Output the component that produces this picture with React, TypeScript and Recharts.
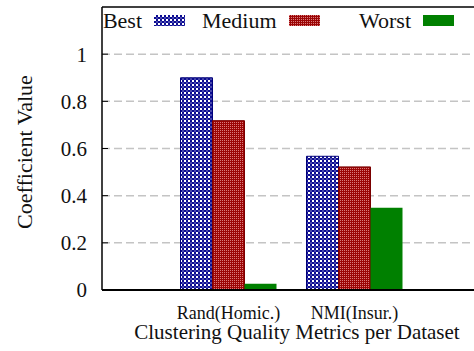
import React from "react";
import {
    BarChart,
    Bar,
    XAxis,
    YAxis,
    CartesianGrid,
    ReferenceLine,
} from "recharts";

// values
const CATEGORIES = ["Rand(Homic.)", "NMI(Insur.)"];
const BEST = [0.9, 0.567];
const MEDIUM = [0.718, 0.522];
const WORST = [0.026, 0.349];
const Y_TICKS = [0, 0.2, 0.4, 0.6, 0.8, 1];

const SERIES = [
    { key: "best", name: "Best", fill: "url(#checkBlue)", stroke: "#00007a", swatch: "url(#checkBlueL)" },
    { key: "medium", name: "Medium", fill: "url(#dotRed)", stroke: "#7a0000", swatch: "url(#dotRedL)" },
    { key: "worst", name: "Worst", fill: "#008000", stroke: "none", swatch: "#008000" },
];

const data = CATEGORIES.map((name, i) => ({
    name,
    best: BEST[i],
    medium: MEDIUM[i],
    worst: WORST[i],
}));

const FONT = "'Liberation Serif', 'Times New Roman', serif";

const Patterns = ({ suffix = "" }: { suffix?: string }) => (
    <>
        <pattern id={`checkBlue${suffix}`} width="4" height="4" patternUnits="userSpaceOnUse">
            <rect width="4" height="4" fill="#0c0c92" />
            <rect x="0" y="0" width="2" height="2" fill="#ffffff" />
            <rect x="2" y="2" width="2" height="2" fill="#ffffff" opacity={0.25} />
        </pattern>
        <pattern id={`dotRed${suffix}`} width="2" height="2" patternUnits="userSpaceOnUse">
            <rect width="2" height="2" fill="#9c0606" />
            <rect x="0" y="0" width="1" height="1" fill="#d97b7b" />
        </pattern>
    </>
);

const YTitle = () => (
    <text
        x={32}
        y={152}
        transform="rotate(-90, 32, 152)"
        textAnchor="middle"
        style={{ fontFamily: FONT, fontSize: 22 }}
        fill="#111"
    >
        Coefficient Value
    </text>
);

const XTitle = () => (
    <text x={297} y={339} textAnchor="middle" style={{ fontFamily: FONT, fontSize: 21 }} fill="#111">
        Clustering Quality Metrics per Dataset
    </text>
);

function KeyOverlay() {
    return (
        <div style={{ position: "absolute", left: 0, top: 0, pointerEvents: "none" }}>
            {SERIES.map((s, k) => (
                <div key={s.key}>
                    <div
                        style={{
                            position: "absolute",
                            left: 62 + k * 134.5,
                            top: 9.6,
                            width: 80,
                            textAlign: "right",
                            fontFamily: FONT,
                            fontSize: 22,
                            lineHeight: "22px",
                            color: "#111",
                            whiteSpace: "nowrap",
                        }}
                    >
                        {s.name}
                    </div>
                    <svg
                        width={31}
                        height={11}
                        style={{ position: "absolute", left: 154 + k * 134.5, top: 15 }}
                    >
                        <defs>
                            <Patterns suffix="L" />
                        </defs>
                        <rect width={31} height={11} fill={s.swatch} />
                    </svg>
                </div>
            ))}
        </div>
    );
}

export default function App() {
    return (
        <div style={{ position: "relative", width: 474, height: 351, fontFamily: FONT }}>
            <style>{"body{margin:0} .recharts-wrapper svg text{font-family:'Liberation Serif','Times New Roman',serif}"}</style>
            <BarChart
                width={474}
                height={351}
                data={data}
                margin={{ top: 7, right: 0, left: 0, bottom: 0 }}
                barGap={0}
                barSize={32}
                style={{ fontFamily: FONT }}
            >
                <defs>
                    <Patterns />
                </defs>
                <CartesianGrid
                    vertical={false}
                    horizontalValues={[0.2, 0.4, 0.6, 0.8, 1]}
                    stroke="#c4c4c4"
                    strokeDasharray="8 4"
                    strokeWidth={1.5}
                />
                <XAxis
                    dataKey="name"
                    height={61}
                    padding={{ left: 63.5, right: 56.5 }}
                    tickLine={false}
                    tickSize={0}
                    tickMargin={16}
                    axisLine={{ stroke: "#000", strokeWidth: 2 }}
                    tick={{ fill: "#111", fontSize: 18, style: { fontFamily: FONT } }}
                    label={<XTitle />}
                />
                <YAxis
                    width={102}
                    domain={[0, 1.2]}
                    ticks={Y_TICKS}
                    interval={0}
                    tickSize={-6}
                    tickMargin={21}
                    tickLine={{ stroke: "#000" }}
                    axisLine={{ stroke: "#000", strokeWidth: 1.5 }}
                    tick={{ fill: "#111", fontSize: 21, style: { fontFamily: FONT } }}
                    label={<YTitle />}
                />
                <ReferenceLine y={1.2} stroke="#000" strokeWidth={1.5} />
                {SERIES.map((s) => (
                    <Bar
                        key={s.key}
                        dataKey={s.key}
                        name={s.name}
                        fill={s.fill}
                        stroke={s.stroke}
                        strokeWidth={1}
                        isAnimationActive={false}
                    />
                ))}
            </BarChart>
            <KeyOverlay />
        </div>
    );
}
